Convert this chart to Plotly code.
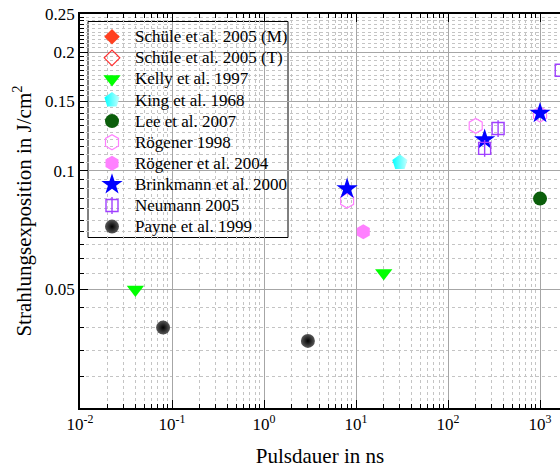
import numpy as np
import plotly.graph_objects as go

# Ablation threshold data: pulse duration (ns) vs. radiant exposure (J/cm^2)
schuele_m_x = []
schuele_m_y = []
schuele_t_x = []
schuele_t_y = []
kelly_x = [0.04, 20]
kelly_y = [0.05, 0.055]
king_x = [30]
king_y = [0.105]
lee_x = [1000]
lee_y = [0.085]
roegener98_x = [8, 200, 1000]
roegener98_y = [0.084, 0.13, 0.139]
roegener04_x = [12]
roegener04_y = [0.07]
brinkmann_x = [8, 250, 1000]
brinkmann_y = [0.09, 0.12, 0.14]
neumann_x = [250, 350, 1700]
neumann_y = [0.114, 0.128, 0.18]
payne_x = [0.08, 3]
payne_y = [0.04, 0.037]

x_tickvals = [0.01, 0.1, 1, 10, 100, 1000]
x_ticktext = ["10<sup>-2</sup>", "10<sup>-1</sup>", "10<sup>0</sup>",
              "10<sup>1</sup>", "10<sup>2</sup>", "10<sup>3</sup>"]
y_tickvals = [0.05, 0.1, 0.15, 0.2, 0.25]
y_ticktext = ["0.05", "0.1", "0.15", "0.2", "0.25"]

FONT = "Liberation Serif"

# Marker styles per series (one style may combine several symbols)
series = [
    ("Schüle et al. 2005 (M)", schuele_m_x, schuele_m_y,
     [dict(symbol="diamond", size=12, color="#ff4020")]),
    ("Schüle et al. 2005 (T)", schuele_t_x, schuele_t_y,
     [dict(symbol="diamond-open", size=12, color="#ff3030",
           line=dict(color="#ff3030", width=1.2))]),
    ("Kelly et al. 1997", kelly_x, kelly_y,
     [dict(symbol="triangle-down", size=15, color="#00ff00")]),
    ("King et al. 1968", king_x, king_y,
     [dict(symbol="pentagon", size=16, color="#00ffff",
           gradient=dict(type="horizontal", color="#c8ffff"))]),
    ("Lee et al. 2007", lee_x, lee_y,
     [dict(symbol="circle", size=14, color="#0b5e0b")]),
    ("Rögener 1998", roegener98_x, roegener98_y,
     [dict(symbol="hexagon-open", size=15, color="#ff80ff",
           line=dict(color="#ff80ff", width=1.2))]),
    ("Rögener et al. 2004", roegener04_x, roegener04_y,
     [dict(symbol="hexagon", size=15, color="#ff80ff")]),
    ("Brinkmann et al. 2000", brinkmann_x, brinkmann_y,
     [dict(symbol="star", size=16, color="#0000ff")]),
    ("Neumann 2005", neumann_x, neumann_y,
     [dict(symbol="square-open", size=12, color="#a040ff",
           line=dict(color="#a040ff", width=1.4)),
      dict(symbol="line-ns-open", size=12, color="#a040ff",
           line=dict(color="#a040ff", width=1.4))]),
    ("Payne et al. 1999", payne_x, payne_y,
     [dict(symbol="circle", size=14, color="#5a5a5a",
           gradient=dict(type="radial", color="#000000"))]),
]

fig = go.Figure()

for name, xs, ys, markers in series:
    for m in markers:
        fig.add_trace(go.Scatter(x=xs, y=ys, mode="markers", name=name,
                                 marker=m, showlegend=False))

# Legend box drawn on an overlay axis pair spanning the plot area (0..1)
PLOT_L, PLOT_R, PLOT_T, PLOT_B = 80, 560, 14, 408
PW, PH = PLOT_R - PLOT_L, PLOT_B - PLOT_T


def px_x(px):
    return (px - PLOT_L) / PW


def px_y(py):
    return (PLOT_B - py) / PH


row0, row_step = 36.7, 21.1
sym_x, text_x = px_x(112), px_x(133)
for i, (name, xs, ys, markers) in enumerate(series):
    yy = px_y(row0 + i * row_step)
    for m in markers:
        fig.add_trace(go.Scatter(x=[sym_x], y=[yy], mode="markers", marker=m,
                                 xaxis="x2", yaxis="y2", showlegend=False,
                                 hoverinfo="skip"))
    fig.add_annotation(x=text_x, y=yy, xref="x2", yref="y2", text=name,
                       showarrow=False, xanchor="left", yanchor="middle",
                       font=dict(family=FONT, size=17, color="black"))

fig.add_shape(type="rect", xref="paper", yref="paper",
              x0=px_x(88), x1=px_x(288), y0=px_y(237.5), y1=px_y(21.5),
              fillcolor="white", line=dict(color="black", width=1),
              layer="between")

x_minor = [k * 10.0 ** n for n in range(-2, 4) for k in range(2, 10)]
y_minor = [round(v, 3) for v in np.arange(0.025, 0.2501, 0.005)
           if round(v, 3) not in y_tickvals]

axis_common = dict(
    type="log",
    showline=True, linecolor="black", linewidth=1.5,
    ticks="inside", ticklen=8, tickwidth=1.3, tickcolor="black",
    showgrid=True, gridcolor="#a6a6a6", gridwidth=1,
    zeroline=False,
    tickfont=dict(family=FONT, size=17, color="black"),
)

fig.update_layout(
    xaxis=dict(
        **axis_common,
        range=[-2, 3.217],
        tickmode="array", tickvals=x_tickvals, ticktext=x_ticktext,
        mirror="ticks",
        minor=dict(tickmode="array", tickvals=x_minor, ticks="inside",
                   ticklen=4, tickwidth=1, tickcolor="black", showgrid=True,
                   gridcolor="#c4c4c4", griddash="3px,3px", gridwidth=1),
        title=dict(text="Pulsdauer in ns",
                   font=dict(family=FONT, size=21, color="black"), standoff=15),
    ),
    yaxis=dict(
        **axis_common,
        range=[np.log10(0.025), np.log10(0.25)],
        tickmode="array", tickvals=y_tickvals, ticktext=y_ticktext,
        mirror=False,
        minor=dict(tickmode="array", tickvals=y_minor, ticks="inside",
                   ticklen=4, tickwidth=1, tickcolor="black", showgrid=True,
                   gridcolor="#c4c4c4", griddash="3px,3px", gridwidth=1),
        title=dict(text="Strahlungsexposition in J/cm<sup>2</sup>",
                   font=dict(family=FONT, size=21, color="black"), standoff=8),
    ),
    xaxis2=dict(overlaying="x", range=[0, 1], visible=False, fixedrange=True),
    yaxis2=dict(overlaying="y", range=[0, 1], visible=False, fixedrange=True),
    width=560, height=468,
    margin=dict(l=80, r=0, t=14, b=60),
    font=dict(family=FONT, size=16, color="black"),
    paper_bgcolor="white", plot_bgcolor="white",
    showlegend=False,
)

fig.write_html("out.html")
